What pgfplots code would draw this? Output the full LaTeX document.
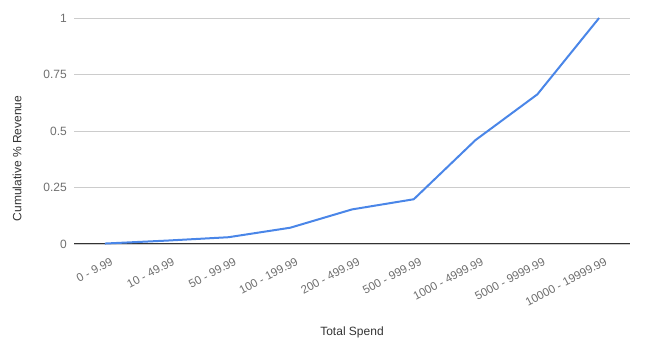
\documentclass[border=0pt]{standalone}
\usepackage{fontspec}
\setmainfont{Liberation Sans}
\usepackage{pgfplots}
\pgfplotsset{compat=1.18}
\definecolor{lineblue}{HTML}{4A86E8}
\definecolor{gridgray}{HTML}{CCCCCC}
\definecolor{ticklab}{HTML}{6F6F6F}
\definecolor{titlecol}{HTML}{333333}
\definecolor{axiscol}{HTML}{333333}
\begin{document}
\begin{tikzpicture}
\path[use as bounding box] (0,0) rectangle (646bp,347bp);
\begin{axis}[
  at={(74bp,103bp)}, anchor=south west,
  scale only axis,
  width=556bp, height=226bp,
  xmin=-0.5, xmax=8.5,
  ymin=0, ymax=1,
  axis line style={draw=none},
  clip=false,
  xtick={0,1,2,3,4,5,6,7,8},
  xticklabels={0 - 9.99,10 - 49.99,50 - 99.99,100 - 199.99,200 - 499.99,500 - 999.99,1000 - 4999.99,5000 - 9999.99,10000 - 19999.99},
  ytick={0,0.25,0.5,0.75,1},
  yticklabels={0,0.25,0.5,0.75,1},
  major tick length=0pt,
  tick style={draw=none},
  ymajorgrids,
  grid style={gridgray, line width=0.9bp},
  x tick label style={font=\fontsize{11.5bp}{13bp}\selectfont, text=ticklab, inner sep=0pt, anchor=north east, xshift=5bp, yshift=-13bp, rotate=28},
  y tick label style={font=\fontsize{12bp}{14bp}\selectfont, text=ticklab, inner sep=0pt, anchor=east, xshift=-7bp},
  xlabel={Total Spend},
  ylabel={Cumulative \% Revenue},
  xlabel style={font=\fontsize{12bp}{14bp}\selectfont, text=titlecol, at={(axis description cs:0.5,-0.389)}, anchor=center},
  ylabel style={font=\fontsize{12bp}{14bp}\selectfont, text=titlecol, at={(axis description cs:-0.1025,0.378)}, anchor=center},
]
\addplot[axiscol, line width=1bp, forget plot] coordinates {(-0.5,0) (8.5,0)};
\addplot[lineblue, line width=2bp, line join=round] coordinates {
  (0,0.002) (1,0.015) (2,0.030) (3,0.072) (4,0.153) (5,0.198) (6,0.460) (7,0.662) (8,1.0)
};
\end{axis}
\end{tikzpicture}
\end{document}
